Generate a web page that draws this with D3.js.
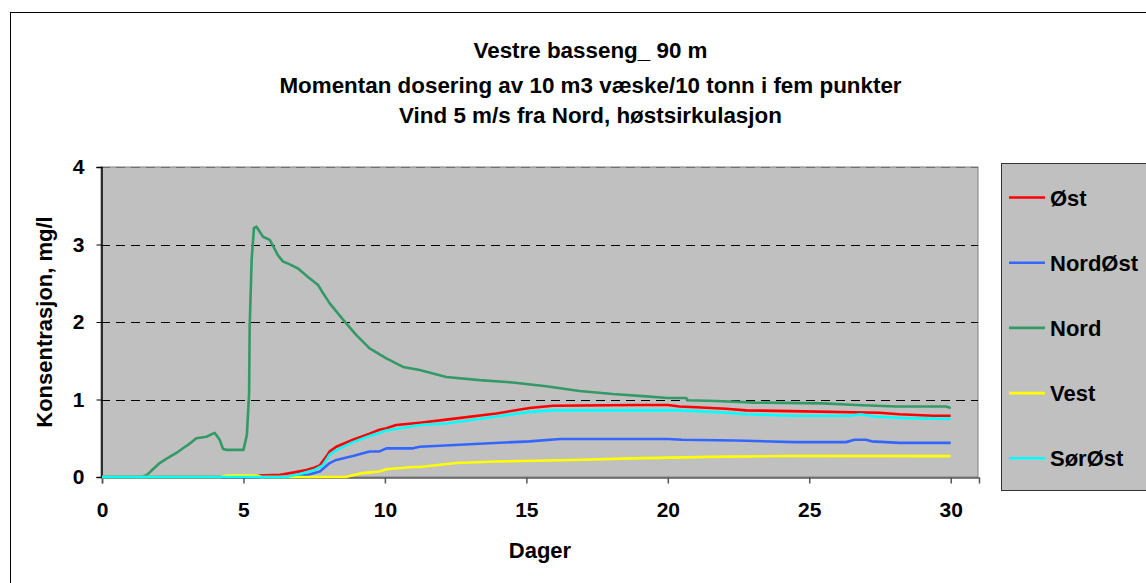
<!DOCTYPE html>
<html>
<head>
<meta charset="utf-8">
<script src="https://cdn.jsdelivr.net/npm/d3@7"></script>
<style>
  html, body { margin: 0; padding: 0; background: #ffffff; }
  svg { display: block; }
  text { font-family: "Liberation Sans", Arial, sans-serif; font-weight: bold; fill: #000; }
</style>
</head>
<body>
<svg id="chart" width="1146" height="583"></svg>
<script>
// ---- data ----
const titleLines = [
  "Vestre basseng_ 90 m",
  "Momentan dosering av 10 m3 væske/10 tonn i fem punkter",
  "Vind 5 m/s fra Nord, høstsirkulasjon"
];
const xLabel = "Dager";
const yLabel = "Konsentrasjon, mg/l";
const xTicks = [0, 5, 10, 15, 20, 25, 30];
const yTicks = [0, 1, 2, 3, 4];
const seriesNames = ["Øst", "NordØst", "Nord", "Vest", "SørØst"];
const seriesColors = ["#ff0000", "#3366ff", "#339966", "#ffff00", "#00ffff"];

// [day, mg/l]
const ost = [[0,0],[5.3,0],[5.5,0.02],[6.3,0.03],[6.8,0.06],[7.22,0.09],[7.5,0.12],[7.7,0.15],[7.9,0.25],[8.05,0.33],[8.28,0.39],[8.87,0.48],[9.46,0.56],[9.81,0.61],[10.05,0.63],[10.4,0.67],[11.23,0.70],[12.17,0.74],[13.94,0.82],[15.11,0.89],[15.94,0.92],[18.88,0.93],[20.0,0.93],[20.41,0.91],[21,0.90],[22.06,0.88],[22.77,0.86],[24.36,0.85],[27.48,0.83],[28.19,0.81],[29.37,0.79],[30,0.79]];
const nordOst = [[0,0],[6.5,0],[7.3,0.03],[7.7,0.07],[8.05,0.18],[8.28,0.22],[8.87,0.27],[9.46,0.33],[9.81,0.33],[10.05,0.37],[11,0.37],[11.23,0.39],[13.35,0.43],[15.11,0.46],[16.2,0.49],[20.0,0.49],[20.5,0.48],[22.4,0.47],[24.5,0.45],[26.3,0.45],[26.6,0.48],[27.0,0.48],[27.2,0.46],[28.2,0.44],[30,0.44]];
const nord = [[0,0],[1.4,0],[1.6,0.03],[1.8,0.1],[2.04,0.18],[2.3,0.24],[2.63,0.31],[2.9,0.38],[3.1,0.43],[3.33,0.50],[3.69,0.52],[3.98,0.57],[4.16,0.48],[4.28,0.36],[4.4,0.35],[5.0,0.35],[5.12,0.54],[5.2,1.08],[5.22,1.94],[5.29,2.8],[5.37,3.21],[5.46,3.23],[5.69,3.10],[5.93,3.06],[6.05,2.98],[6.22,2.86],[6.4,2.78],[6.6,2.75],[6.93,2.69],[7.28,2.58],[7.63,2.48],[7.8,2.38],[8.05,2.24],[8.52,2.03],[8.99,1.83],[9.46,1.66],[10.05,1.53],[10.64,1.42],[11.23,1.38],[12.17,1.29],[13.35,1.25],[14.52,1.22],[15.7,1.17],[16.88,1.11],[18.06,1.07],[19.24,1.04],[20.0,1.02],[20.65,1.02],[20.7,0.99],[21.7,0.98],[23.1,0.96],[25.5,0.95],[26.66,0.93],[28.07,0.91],[29.84,0.91],[30,0.89]];
const vest = [[0,0],[4.2,0],[4.4,0.02],[5.5,0.02],[5.6,0],[8.6,0],[9.2,0.05],[9.81,0.07],[10.05,0.10],[11,0.13],[11.23,0.13],[12.52,0.18],[13.94,0.20],[16.65,0.22],[18.76,0.24],[21.5,0.26],[24.1,0.27],[30,0.27]];
const sorOst = [[0,0],[6.5,0],[7.0,0.04],[7.5,0.09],[7.8,0.15],[8.05,0.29],[8.3,0.35],[8.87,0.45],[9.46,0.53],[9.81,0.57],[10.05,0.60],[11.23,0.67],[12.17,0.69],[13.94,0.78],[15.11,0.84],[15.94,0.86],[20.4,0.86],[21,0.85],[22.06,0.83],[22.77,0.81],[24.4,0.79],[26.5,0.79],[26.8,0.81],[27.3,0.78],[28.4,0.76],[30,0.75]];
const seriesData = [ost, nordOst, nord, vest, sorOst];

// ---- layout ----
const svg = d3.select("#chart");
const plot = { left: 101, top: 167, right: 978, bottom: 477 };
const x = d3.scaleLinear().domain([0, 31]).range([plot.left + 1, plot.right + 1]);
const y = d3.scaleLinear().domain([0, 4]).range([plot.bottom, plot.top]);

// outer chart border
svg.append("rect").attr("x", 10.5).attr("y", 12.5).attr("width", 1160).attr("height", 600)
  .attr("fill", "#fff").attr("stroke", "#000").attr("stroke-width", 1);

// title
svg.append("g").selectAll("text").data(titleLines).join("text")
  .attr("x", 590.5).attr("y", (d, i) => [58, 92.5, 123][i])
  .attr("text-anchor", "middle").style("font-size", "22.4px").text(d => d);

// plot area
svg.append("rect").attr("x", plot.left).attr("y", plot.top)
  .attr("width", plot.right - plot.left).attr("height", plot.bottom - plot.top)
  .attr("fill", "#c0c0c0").attr("stroke", "#808080").attr("stroke-width", 1);

// gridlines
svg.append("g").selectAll("line").data(yTicks.filter(d => d > 0)).join("line")
  .attr("x1", plot.left).attr("x2", plot.right)
  .attr("y1", d => Math.round(y(d)) + 0.5).attr("y2", d => Math.round(y(d)) + 0.5)
  .attr("stroke", d => d === 4 ? "#707070" : "#000").attr("stroke-dasharray", "9,6");

// axes
const xAxis = d3.axisBottom(x).tickValues(xTicks).tickSize(6).tickPadding(19).tickFormat(d3.format("d"));
const gx = svg.append("g").attr("transform", `translate(0,${plot.bottom + 0.5})`).call(xAxis);
gx.select(".domain").attr("stroke", "#555").attr("stroke-width", 1.5);
gx.selectAll(".tick line").attr("stroke", "#555").attr("stroke-width", 1.5);
gx.selectAll("text").style("font-size", "21px").attr("fill", "#000");

const yAxis = d3.axisLeft(y).tickValues(yTicks).tickSize(5).tickPadding(12).tickFormat(d3.format("d"));
const gy = svg.append("g").attr("transform", `translate(${plot.left + 0.5},0)`).call(yAxis);
gy.select(".domain").attr("stroke", "#000").attr("stroke-width", 1.5);
gy.selectAll(".tick line").attr("stroke", "#000");
gy.selectAll("text").style("font-size", "21px").attr("fill", "#000");

// axis titles
svg.append("text").attr("x", 540).attr("y", 558).attr("text-anchor", "middle")
  .style("font-size", "22px").text(xLabel);
svg.append("text").attr("transform", "translate(52,322) rotate(-90)").attr("text-anchor", "middle")
  .style("font-size", "22px").text(yLabel);

// lines
const line = d3.line().x(d => x(d[0])).y(d => y(d[1]));
svg.append("g").selectAll("path").data(seriesData).join("path")
  .attr("d", line).attr("fill", "none")
  .attr("stroke", (d, i) => seriesColors[i]).attr("stroke-width", 2.6)
  .attr("stroke-linejoin", "round");

// legend
svg.append("rect").attr("x", 1001.5).attr("y", 163.5).attr("width", 150).attr("height", 327)
  .attr("fill", "#c0c0c0").attr("stroke", "#333").attr("stroke-width", 1);
const lg = svg.append("g").selectAll("g").data(seriesNames).join("g")
  .attr("transform", (d, i) => `translate(1009,${197.5 + i * 65.2})`);
lg.append("line").attr("x1", 0).attr("x2", 36).attr("y1", 0).attr("y2", 0)
  .attr("stroke", (d, i) => seriesColors[i]).attr("stroke-width", 2.6);
lg.append("text").attr("x", 41).attr("y", 8).style("font-size", "22px").text(d => d);
</script>
</body>
</html>
